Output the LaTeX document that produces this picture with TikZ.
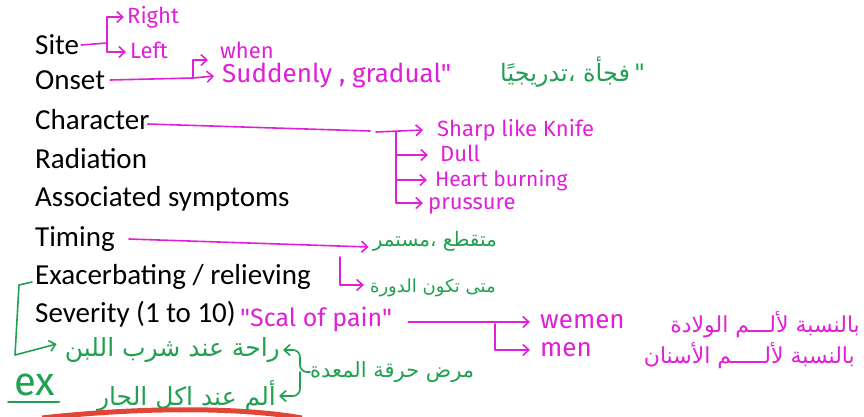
\documentclass[tikz,border=0pt]{standalone}
\usepackage{fontspec}
\usetikzlibrary{arrows.meta}
\setmainfont{Carlito}
\newfontfamily\handfont{Fira Sans}
\newfontfamily\arabicfont[Script=Arabic]{DejaVu Sans}
\TeXXeTstate=1
\definecolor{pen}{HTML}{E020D6}
\definecolor{leaf}{HTML}{22A052}
\definecolor{redmark}{HTML}{E04535}
\tikzset{
  item/.style={anchor=west, inner sep=0pt, text height=22pt, text depth=4pt,
    font=\fontsize{29}{34}\selectfont},
  note/.style={anchor=west, inner sep=0pt, text=pen, text height=16pt, text depth=3pt,
    font=\handfont\fontsize{22}{26}\selectfont},
  arnote/.style={anchor=east, inner sep=0pt, text=leaf,
    font=\arabicfont\fontsize{22}{26}\selectfont},
  penline/.style={draw=pen, line width=1.6pt, line cap=round, line join=round},
  pentip/.style={penline, -{Straight Barb[length=6pt,width=11pt]}},
  leafline/.style={draw=leaf, line width=1.6pt, line cap=round, line join=round},
  leaftip/.style={leafline, -{Straight Barb[length=6pt,width=11pt]}}
}
\begin{document}
\begin{tikzpicture}[x=1pt,y=-1pt]
  \useasboundingbox (0,0) rectangle (864,416);
  % the checklist
  \node[item] (site) at (35,45) {Site};
  \node[item] (onset) at (35,80) {Onset};
  \node[item] (character) at (35,120) {Character};
  \node[item] (radiation) at (35,159) {Radiation};
  \node[item] (assoc) at (35,197) {Associated symptoms};
  \node[item] (timing) at (35,237) {Timing};
  \node[item] (exacerb) at (35,275) {Exacerbating / relieving};
  \node[item] (severity) at (35,313) {Severity (1 to 10)};

  % site
  \node[note] (right) at (127,17) {Right};
  \node[note] (left) at (130,52) {Left};
  \coordinate (siteFork) at (107,43);
  \draw[penline] ([xshift=2pt]site.east) -- (siteFork);
  \draw[pentip] (siteFork) |- ([xshift=-3pt]right.west);
  \draw[pentip] (siteFork) |- ([xshift=-4pt]left.west);

  % onset
  \node[note] (when) at (220,52) {when};
  \node[note, font=\handfont\fontsize{26}{30}\selectfont] (sudden) at (222,76) {Suddenly , gradual"};
  \node[arnote, anchor=west, font=\arabicfont\fontsize{24}{29}\selectfont] (suddenAr) at (500,72) {\beginR فجأة ،تدريجيًا\endR\,"};
  \coordinate (onsetFork) at (193,78);
  \coordinate (whenEnd) at (208,60);
  \draw[penline] ([xshift=5pt]onset.east) -- (onsetFork);
  \draw[pentip] (onsetFork) |- (whenEnd);
  \draw[pentip] (onsetFork) -- ([xshift=-8pt]sudden.west);

  % character
  \node[note] (sharp) at (437,130) {Sharp like Knife};
  \node[note] (dull) at (440,155) {Dull};
  \node[note, font=\handfont\fontsize{21}{26}\selectfont] (heart) at (435,180) {Heart burning};
  \node[note] (pressure) at (428,203) {prussure};
  \coordinate (charGap) at (370,131);
  \coordinate (charRest) at (376,132);
  \coordinate (charFork) at (396,132);
  \draw[penline] ([xshift=-2pt,yshift=-4pt]character.east) -- (charGap);
  \draw[pentip] (charRest) -- ([xshift=-14pt]sharp.west);
  \draw[pentip] (charFork) |- ([xshift=-12pt]dull.west);
  \draw[pentip] (charFork) |- ([xshift=-8pt]heart.west);
  \draw[pentip] (charFork) |- ([xshift=-5pt]pressure.west);

  % timing
  \node[arnote, font=\arabicfont\fontsize{20}{24}\selectfont] (cut) at (497,241) {\beginR متقطع ،مستمر\endR};
  \node[arnote, font=\arabicfont\fontsize{18}{22}\selectfont] (cycle) at (496,288) {\beginR متى تكون الدورة\endR};
  \coordinate (timeFork) at (340,257);
  \draw[pentip] ([xshift=14pt,yshift=-2pt]timing.east) -- ([xshift=-4pt,yshift=-6pt]cut.west);
  \draw[pentip] (timeFork) |- ([xshift=-6pt,yshift=3pt]cycle.west);

  % severity
  \node[note, font=\handfont\fontsize{25}{30}\selectfont] (scale) at (240,320) {"Scal of pain"};
  \node[note, font=\handfont\fontsize{26}{30}\selectfont] (women) at (540,322) {wemen};
  \node[note, font=\handfont\fontsize{26}{30}\selectfont] (men) at (540,350) {men};
  \node[arnote, text=pen] (womenAr) at (860,325) {\beginR بالنسبة لألـــم الولادة\endR};
  \node[arnote, text=pen] (menAr) at (855,356) {\beginR بالنسبة لألـــــم الأسنان\endR};
  \coordinate (sevFork) at (495,324);
  \draw[pentip] ([xshift=16pt,yshift=-2pt]scale.east) -- ([xshift=-10pt]women.west);
  \draw[pentip] (sevFork) |- ([xshift=-10pt]men.west);

  % exacerbating / relieving example
  \node[arnote, font=\arabicfont\fontsize{25}{30}\selectfont] (milk) at (280,350) {\beginR راحة عند شرب اللبن\endR};
  \node[arnote, font=\arabicfont\fontsize{25}{30}\selectfont] (spicy) at (276,396) {\beginR ألم عند اكل الحار\endR};
  \node[arnote, anchor=west, font=\arabicfont\fontsize{21}{26}\selectfont] (heartburn) at (310,372) {\beginR مرض حرقة المعدة\endR};
  \node[note, text=leaf, font=\handfont\fontsize{40}{44}\selectfont] (ex) at (14,389) {ex};
  \coordinate (exTop) at (32,282);
  \coordinate (exCorner) at (19,285);
  \coordinate (exLow) at (15,355);
  \coordinate (hbFork) at (300,372);
  \draw[leaftip] (exTop) -- (exCorner) -- (exLow) -- ([xshift=-8pt,yshift=6pt]milk.west);
  \draw[leaftip, rounded corners=7pt] (heartburn.west) -- (hbFork) |- ([xshift=3pt]milk.east);
  \draw[leaftip, rounded corners=7pt] (hbFork) |- ([xshift=3pt]spicy.east);
  \draw[leafline] ([xshift=-6pt,yshift=-3pt]ex.south west) -- ([xshift=4pt,yshift=-3pt]ex.south east);

  % red mark at the bottom edge
  \draw[redmark, line width=5pt] (42,418) .. controls (140,407) and (240,407) .. (302,418);
\end{tikzpicture}
\end{document}
